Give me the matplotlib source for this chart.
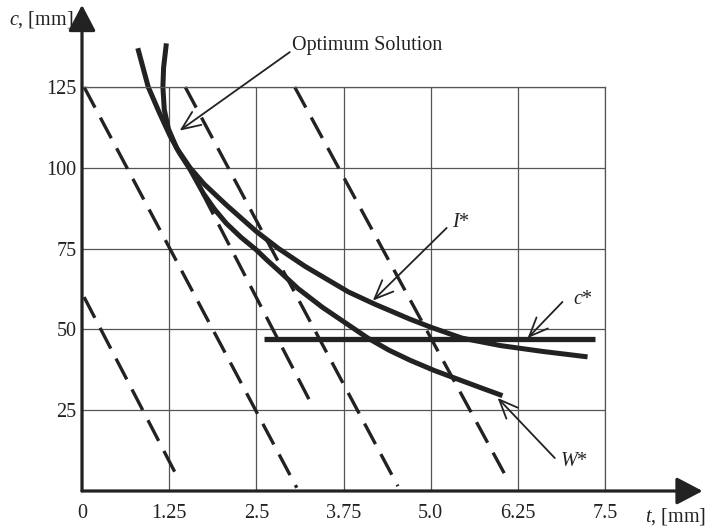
import matplotlib
matplotlib.use('agg')
import matplotlib.pyplot as plt

# curves: t [mm] against c [mm]
w_t = [0.80, 0.95, 1.10, 1.26, 1.40, 1.55, 1.74, 1.90, 2.07, 2.28, 2.50, 2.65, 2.84,
       3.10, 3.45, 3.82, 4.10, 4.40, 4.70, 5.05, 5.40, 5.75, 6.03]
w_c = [137, 125, 117.5, 110, 104.5, 99.5, 92.1, 87.2, 82.8, 78.5, 74.6, 71.5, 67.8,
       62.6, 56.8, 51.4, 47.3, 43.6, 40.5, 37.3, 34.5, 31.7, 29.5]

i_t = [1.21, 1.17, 1.16, 1.18, 1.24, 1.36, 1.55, 1.75, 2.07, 2.50, 2.82, 3.20,
       3.82, 4.20, 4.70, 5.00, 5.45, 6.00, 6.60, 7.25]
i_c = [138.5, 131, 125, 118, 112, 106, 100, 95, 88.5, 80.3, 75, 69.5,
       61.6, 57.8, 53.2, 50.7, 47.3, 45.0, 43.2, 41.5]

cstar_t = [2.61, 7.35]
cstar_c = [47, 47]

# dashed lines, start and end points
dash_t0 = [0.03, 0.03, 1.48, 1.73, 3.05]
dash_c0 = [60, 125, 125, 92, 125]
dash_t1 = [1.40, 3.08, 4.53, 3.30, 6.13]
dash_c1 = [3, 1, 1.5, 26.5, 2.5]

xticks = [0, 1.25, 2.5, 3.75, 5.0, 6.25, 7.5]
xlabels = ['0', '1.25', '2.5', '3.75', '5.0', '6.25', '7.5']
yticks = [25, 50, 75, 100, 125]

plt.rcParams['font.family'] = ['Liberation Serif', 'DejaVu Serif']
plt.rcParams['mathtext.fontset'] = 'custom'
plt.rcParams['mathtext.it'] = 'Liberation Serif:italic'
plt.rcParams['mathtext.rm'] = 'Liberation Serif'

ink = '#222222'
gridc = '#555555'
fs = 14.5

fig = plt.figure(figsize=(7.07, 5.29), dpi=100)
ax = fig.add_axes([82 / 707, 38 / 529, 523 / 707, 404 / 529])
ax.set_xlim(0, 7.5)
ax.set_ylim(0, 125)
ax.set_xticks(xticks)
ax.set_xticklabels(xlabels)
ax.set_yticks(yticks)
ax.tick_params(length=0, labelsize=fs, colors=ink)
ax.tick_params(axis='x', pad=9)
ax.tick_params(axis='y', pad=4)
ax.grid(True, color=gridc, lw=0.9)
ax.set_axisbelow(True)
for s in ['left', 'bottom']:
    ax.spines[s].set_visible(False)
for s in ['top', 'right']:
    ax.spines[s].set_color(gridc)
    ax.spines[s].set_linewidth(0.9)

for t0, c0, t1, c1 in zip(dash_t0, dash_c0, dash_t1, dash_c1):
    ax.plot([t0, t1], [c0, c1], color=ink, lw=2.4, dashes=(7, 3.4),
            solid_capstyle='butt', clip_on=False)

ax.plot(w_t, w_c, color=ink, lw=3.6, clip_on=False, solid_capstyle='butt')
ax.plot(i_t, i_c, color=ink, lw=3.6, clip_on=False, solid_capstyle='butt')
ax.plot(cstar_t, cstar_c, color=ink, lw=3.8, clip_on=False, solid_capstyle='butt')

# axes with arrow heads
axis_arrow = dict(arrowstyle='-|>,head_length=0.8,head_width=0.42', lw=2.3,
                  color=ink, mutation_scale=20, shrinkA=0, shrinkB=0)
ax.annotate('', xy=(0, 150.4), xytext=(0, 0), arrowprops=axis_arrow,
            annotation_clip=False)
ax.annotate('', xy=(8.9, 0), xytext=(0, 0), arrowprops=axis_arrow,
            annotation_clip=False)

ax.text(-0.13, 146, '$c$, [mm]', ha='right', va='center', fontsize=fs, color=ink)
ax.text(8.07, -8, '$t$, [mm]', ha='left', va='center', fontsize=fs, color=ink)

# callouts
note_arrow = dict(arrowstyle='->,head_length=0.9,head_width=0.38', lw=1.3,
                  color=ink, mutation_scale=15, shrinkA=0, shrinkB=0)
ax.annotate('', xy=(1.40, 111.5), xytext=(2.98, 135.8), arrowprops=note_arrow,
            annotation_clip=False)
ax.text(3.01, 137.7, 'Optimum Solution', ha='left', va='center', fontsize=fs, color=ink)

ax.annotate('', xy=(4.17, 58.9), xytext=(5.23, 81.4), arrowprops=note_arrow)
ax.text(5.44, 83.2, '$I$*', ha='center', va='center', fontsize=fs, color=ink)

ax.annotate('', xy=(6.39, 47.3), xytext=(6.89, 58.5), arrowprops=note_arrow)
ax.text(7.19, 59.4, '$c$*', ha='center', va='center', fontsize=fs, color=ink)

ax.annotate('', xy=(5.96, 28.8), xytext=(6.78, 10.2), arrowprops=note_arrow)
ax.text(7.06, 9.0, '$W$*', ha='center', va='center', fontsize=fs, color=ink)

fig.savefig('out.png', dpi=100, facecolor='white')
